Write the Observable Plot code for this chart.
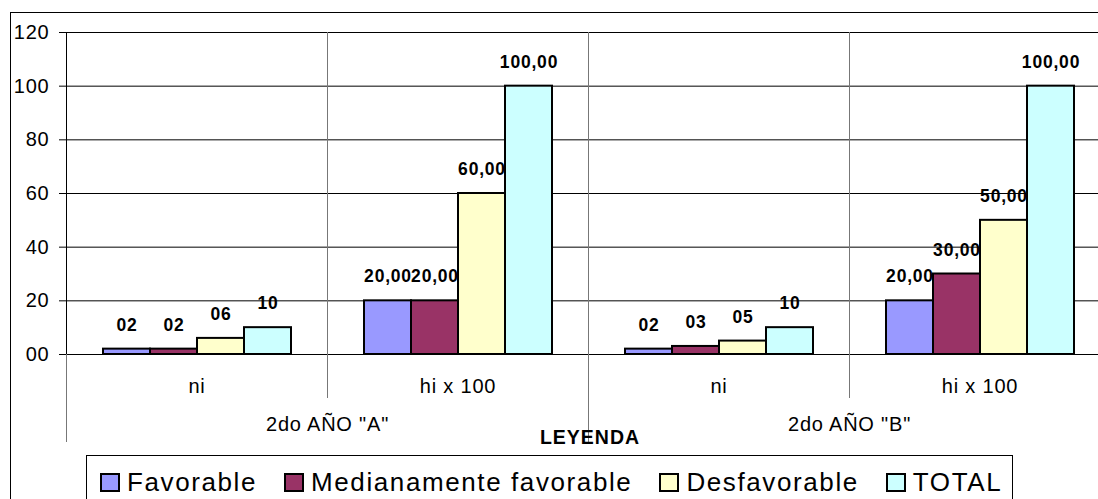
<!DOCTYPE html>
<html><head><meta charset="utf-8">
<script src="https://cdn.jsdelivr.net/npm/d3@7"></script>
<script src="https://cdn.jsdelivr.net/npm/@observablehq/plot@0.6"></script>
<style>
html,body{margin:0;padding:0;background:#fff;}
body{position:relative;width:1098px;height:499px;overflow:hidden;font-family:"Liberation Sans",Arial,sans-serif;color:#000;}
#outer{position:absolute;left:10px;top:12px;width:1200px;height:600px;border-left:1px solid #000;border-top:1px solid #000;}
#chart{position:absolute;left:0;top:0;}
#leyenda{position:absolute;left:490px;top:427px;width:200px;text-align:center;font-weight:bold;font-size:19.5px;line-height:20px;letter-spacing:1px;}
#legend{position:absolute;left:86px;top:455px;width:927px;height:80px;border:1px solid #000;box-sizing:border-box;display:flex;align-items:flex-start;padding:11px 0 0 13px;gap:27px;font-size:26px;line-height:30px;letter-spacing:1.6px;white-space:nowrap;}
.item{display:flex;align-items:center;}
.sw{width:16px;height:15px;border:2px solid #000;margin-right:7px;}
</style></head><body>
<div id="outer"></div>
<div id="chart"></div>
<div id="leyenda">LEYENDA</div>
<div id="legend"></div>
<script>
const years = ['2do AÑO "A"', '2do AÑO "B"'];
const measures = ["ni", "hi x 100"];
const series = ["Favorable", "Medianamente favorable", "Desfavorable", "TOTAL"];
const seriesColors = ["#9999ff", "#993366", "#ffffcc", "#ccffff"];
const aNi = [2, 2, 6, 10];
const aHi = [20, 20, 60, 100];
const bNi = [2, 3, 5, 10];
const bHi = [20, 30, 50, 100];
const aNiLabels = ["02", "02", "06", "10"];
const aHiLabels = ["20,00", "20,00", "60,00", "100,00"];
const bNiLabels = ["02", "03", "05", "10"];
const bHiLabels = ["20,00", "30,00", "50,00", "100,00"];
const yTicks = [0, 20, 40, 60, 80, 100, 120];
const yTickLabels = ["00", "20", "40", "60", "80", "100", "120"];

const blocks = [
  {year: years[0], measure: measures[0], values: aNi, labels: aNiLabels},
  {year: years[0], measure: measures[1], values: aHi, labels: aHiLabels},
  {year: years[1], measure: measures[0], values: bNi, labels: bNiLabels},
  {year: years[1], measure: measures[1], values: bHi, labels: bHiLabels}
];
const keys = blocks.map(b => b.year + "|" + b.measure);
const rows = blocks.flatMap((b, i) => series.map((s, j) => ({key: keys[i], series: s, value: b.values[j], label: b.labels[j]})));
const groupRows = blocks.map((b, i) => ({key: keys[i], measure: b.measure}));
const yearRows = years.map((y, i) => ({key: keys[i * 2 + 1], year: y}));
const outerKeys = [keys[0], keys[2]];

const W = 1111, H = 499, mL = 66, mR = 1, mT = 32, mB = 145;
const facetW = (W - mL - mR) / keys.length;
const font = "'Liberation Sans', Arial, sans-serif";

const chart = Plot.plot({
  width: W, height: H,
  marginLeft: mL, marginRight: mR, marginTop: mT, marginBottom: mB,
  style: {fontFamily: font, fontSize: "19px", letterSpacing: "0.8px", background: "none", maxWidth: "none", overflow: "visible", color: "#000"},
  fx: {domain: keys, paddingInner: 0, paddingOuter: 0, axis: null, label: null},
  x: {domain: series, paddingInner: 0, paddingOuter: 0.733, axis: null},
  y: {domain: [0, 120], label: null},
  color: {domain: series, range: seriesColors},
  marks: [
    Plot.ruleY(yTicks, {stroke: "#000", strokeWidth: 1}),
    Plot.ruleX(keys, {fx: d => d, x: null, dx: -facetW / 2, insetBottom: -44, stroke: "#777"}),
    Plot.ruleX(outerKeys, {fx: d => d, x: null, dx: -facetW / 2, insetBottom: -88, stroke: "#777"}),
    Plot.ruleX([keys[0]], {fx: d => d, x: null, dx: -facetW / 2, stroke: "#000"}),
    Plot.barY(rows, {fx: "key", x: "series", y: "value", fill: "series", stroke: "#000", strokeWidth: 2}),
    Plot.text(rows, {fx: "key", x: "series", y: "value", text: "label", dy: -24, lineAnchor: "middle", fontWeight: "bold", fontSize: 17.5, style: "letter-spacing:1px"}),
    Plot.text(groupRows, {fx: "key", text: "measure", frameAnchor: "bottom", textAnchor: "middle", dy: 32, lineAnchor: "middle", fontSize: 20}),
    Plot.text(yearRows, {fx: "key", text: "year", frameAnchor: "bottom-left", textAnchor: "middle", dy: 70, lineAnchor: "middle", fontSize: 20}),
    Plot.axisY(yTicks, {tickSize: 7, tickPadding: 10, tickFormat: d => yTickLabels[yTicks.indexOf(d)], fontSize: 20, label: null})
  ]
});
document.getElementById("chart").appendChild(chart);

const legend = document.getElementById("legend");
series.forEach((s, i) => {
  const item = document.createElement("div");
  item.className = "item";
  const sw = document.createElement("span");
  sw.className = "sw";
  sw.style.background = seriesColors[i];
  const t = document.createElement("span");
  t.textContent = s;
  item.appendChild(sw);
  item.appendChild(t);
  legend.appendChild(item);
});
</script>
</body></html>
